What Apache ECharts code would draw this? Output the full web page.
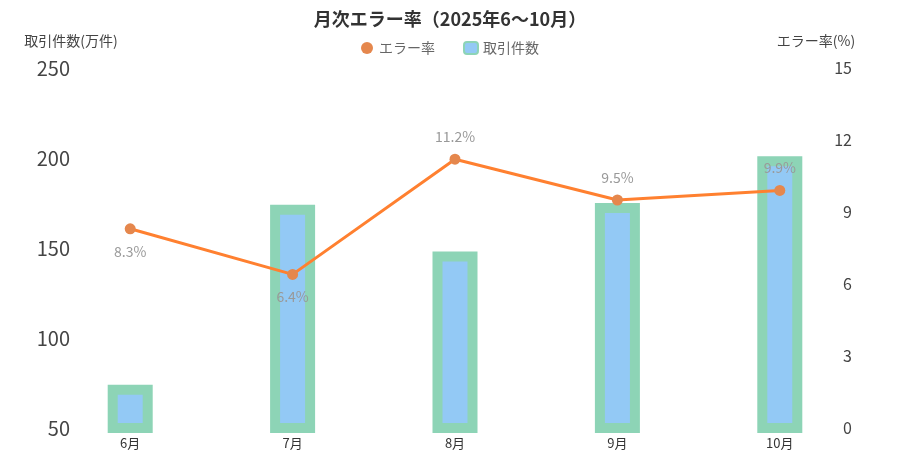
<!DOCTYPE html>
<html><head><meta charset="utf-8">
<script src="https://cdn.jsdelivr.net/npm/echarts@6/dist/echarts.min.js"></script>
<style>html,body{margin:0;padding:0;background:#fff}#c{width:900px;height:472px}</style>
</head><body><div id="c"></div>
<script>
const months = ['6月','7月','8月','9月','10月'];
const transactions = [74, 174, 148, 175, 201];
const errorRate = [8.3, 6.4, 11.2, 9.5, 9.9];
const leftTicks = {min:50, max:250, interval:50};
const rightTicks = {min:0, max:15, interval:3};

const chart = echarts.init(document.getElementById('c'));
const ff = '"Noto Sans CJK JP", "Noto Sans", sans-serif';
chart.setOption({
  textStyle:{fontFamily:ff},
  title:{text:'月次エラー率（2025年6～10月）', left:'center', top:5,
    textStyle:{fontSize:18, fontWeight:'bold', color:'#333', fontFamily:ff}},
  legend:{top:36, left:'center', itemGap:28, itemWidth:14, itemHeight:12,
    textStyle:{fontSize:14, color:'#666'},
    data:[{name:'エラー率', icon:'circle'},{name:'取引件数', icon:'roundRect'}]},
  grid:{left:49, right:39, top:68, bottom:44},
  xAxis:{type:'category', data:months,
    axisLine:{show:false}, axisTick:{show:false},
    axisLabel:{fontSize:13, color:'#333', margin:9}},
  yAxis:[
    {type:'value', name:'取引件数(万件)', min:leftTicks.min, max:leftTicks.max, interval:leftTicks.interval,
     nameGap:20, nameTextStyle:{fontSize:14, color:'#444', align:'center', padding:[0,0,0,44]},
     axisLine:{show:false}, axisTick:{show:false}, splitLine:{show:false},
     axisLabel:{fontSize:20, color:'#444', margin:-21}},
    {type:'value', name:'エラー率(%)', min:rightTicks.min, max:rightTicks.max, interval:rightTicks.interval,
     nameGap:20, nameTextStyle:{fontSize:14, color:'#444', align:'center', padding:[0,90,0,0]},
     axisLine:{show:false}, axisTick:{show:false}, splitLine:{show:false},
     axisLabel:{fontSize:16, color:'#444', align:'right', margin:-9}}
  ],
  series:[
    {name:'取引件数', type:'bar', yAxisIndex:0, data:transactions, barWidth:45,
     itemStyle:{color:'#93C9F5', borderColor:'#8DD4B6', borderWidth:10}},
    {name:'エラー率', type:'line', yAxisIndex:1, z:5,
     data:errorRate.map((v,i)=>({value:v, label:{position: i<2 ? 'bottom':'top'}})),
     symbol:'circle', symbolSize:11,
     lineStyle:{color:'#FF8030', width:3},
     itemStyle:{color:'#E5874D'},
     label:{show:true, formatter:'{c}%', fontSize:14, color:'#999', distance:10}}
  ]
});
</script></body></html>
